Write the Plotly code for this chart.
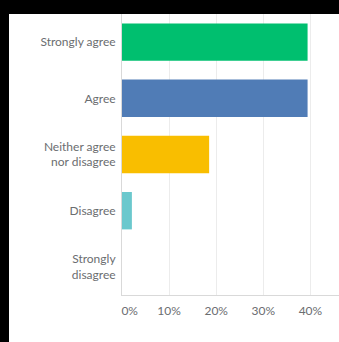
import plotly.graph_objects as go

# Survey answer categories and share of respondents (%)
categories = ["Strongly agree", "Agree", "Neither agree<br>nor disagree", "Disagree", "Strongly<br>disagree"]
percentages = [39.4, 39.4, 18.5, 2.1, 0.0]
bar_colors = ["#00bf6f", "#507cb6", "#f9be00", "#6bc8cd", "#d25f90"]

tick_values = [0, 10, 20, 30, 40]
tick_labels = ["\u00a0\u00a0\u00a0\u00a0\u00a00%", "10%", "20%", "30%", "40%"]

W, H = 339, 342
ML, MR, MT, MB = 122, 0, 14, 47
pw, ph = W - ML - MR, H - MT - MB

fig = go.Figure(
    go.Bar(
        x=percentages,
        y=categories,
        orientation="h",
        marker=dict(color=bar_colors, line=dict(width=0)),
        hoverinfo="skip",
    )
)

text_color = "#6b6d70"
font = dict(family="Lato, Roboto, sans-serif", size=12, color=text_color)

fig.update_layout(
    width=W,
    height=H,
    margin=dict(l=ML, r=MR, t=MT, b=MB),
    paper_bgcolor="white",
    plot_bgcolor="white",
    bargap=0.335,
    showlegend=False,
    font=font,
    xaxis=dict(
        range=[0, 46.07],
        tickvals=tick_values,
        ticktext=tick_labels,
        showgrid=True,
        gridcolor="#ececec",
        gridwidth=1,
        zeroline=False,
        showline=True,
        linecolor="#d9d9d9",
        linewidth=1,
        ticks="",
        ticklabelstandoff=5,
        tickfont=font,
        fixedrange=True,
    ),
    yaxis=dict(
        autorange="reversed",
        showgrid=False,
        zeroline=False,
        showline=True,
        linecolor="#d9d9d9",
        linewidth=1,
        ticks="",
        ticklabelstandoff=3,
        tickfont=font,
        fixedrange=True,
    ),
    shapes=[
        # dark frame strips along the top and left edges
        dict(type="rect", xref="paper", yref="paper",
             x0=-ML / pw, x1=1 + MR / pw, y0=1, y1=1 + MT / ph,
             fillcolor="black", line=dict(width=0), layer="above"),
        dict(type="rect", xref="paper", yref="paper",
             x0=-ML / pw, x1=(9 - ML) / pw, y0=-MB / ph, y1=1 + MT / ph,
             fillcolor="black", line=dict(width=0), layer="above"),
    ],
)

fig.write_html("out.html", config={"displayModeBar": False})
